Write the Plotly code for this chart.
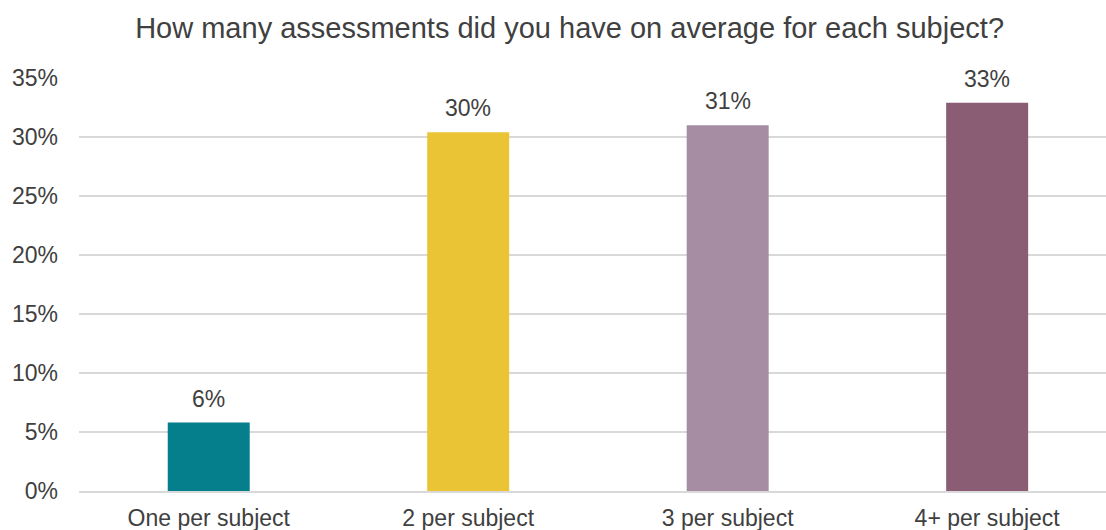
import plotly.graph_objects as go

categories = ["One per subject", "2 per subject", "3 per subject", "4+ per subject"]
shares = [0.058, 0.304, 0.310, 0.329]
bar_colors = ["#067F8C", "#EAC435", "#A68DA3", "#8A5D74"]
y_ticks = [0, 0.05, 0.10, 0.15, 0.20, 0.25, 0.30, 0.35]

FONT = "Liberation Sans, Arial, sans-serif"
TEXT = "#404040"

fig = go.Figure(
    go.Bar(
        x=list(range(len(categories))),
        y=shares,
        marker=dict(color=bar_colors, line=dict(width=0)),
        width=0.316,
        hoverinfo="skip",
    )
)

# value labels above each bar
for i, v in enumerate(shares):
    fig.add_annotation(
        x=i, y=v, text=f"{round(v * 100):d}%", showarrow=False,
        yanchor="bottom", yshift=9,
        font=dict(family=FONT, size=23, color=TEXT),
    )

fig.update_layout(
    width=1106, height=530,
    margin=dict(l=79, r=0, t=78, b=39),
    paper_bgcolor="white", plot_bgcolor="white",
    showlegend=False,
    title=dict(
        text="How many assessments did you have on average for each subject?",
        x=0.515, xanchor="center", y=1 - 28 / 530, yanchor="middle",
        xref="container", yref="container",
        font=dict(family=FONT, size=29, color=TEXT),
    ),
    font=dict(family=FONT, size=23, color=TEXT),
)

fig.update_xaxes(
    range=[-0.5, 3.458],
    tickmode="array", tickvals=list(range(len(categories))), ticktext=categories,
    showgrid=False, zeroline=False,
    showline=True, linecolor="#D9D9D9", linewidth=2,
    ticks="", ticklabelstandoff=5,
    tickfont=dict(family=FONT, size=23, color=TEXT),
)
fig.update_yaxes(
    range=[0, 0.35],
    tickmode="array", tickvals=y_ticks, ticktext=[f"{round(t * 100)}%" for t in y_ticks],
    showgrid=True, gridcolor="#D9D9D9", gridwidth=1.5,
    zeroline=False, showline=False, ticks="", ticklabelstandoff=20,
    tickfont=dict(family=FONT, size=23, color=TEXT),
)

fig.write_html("out.html")
